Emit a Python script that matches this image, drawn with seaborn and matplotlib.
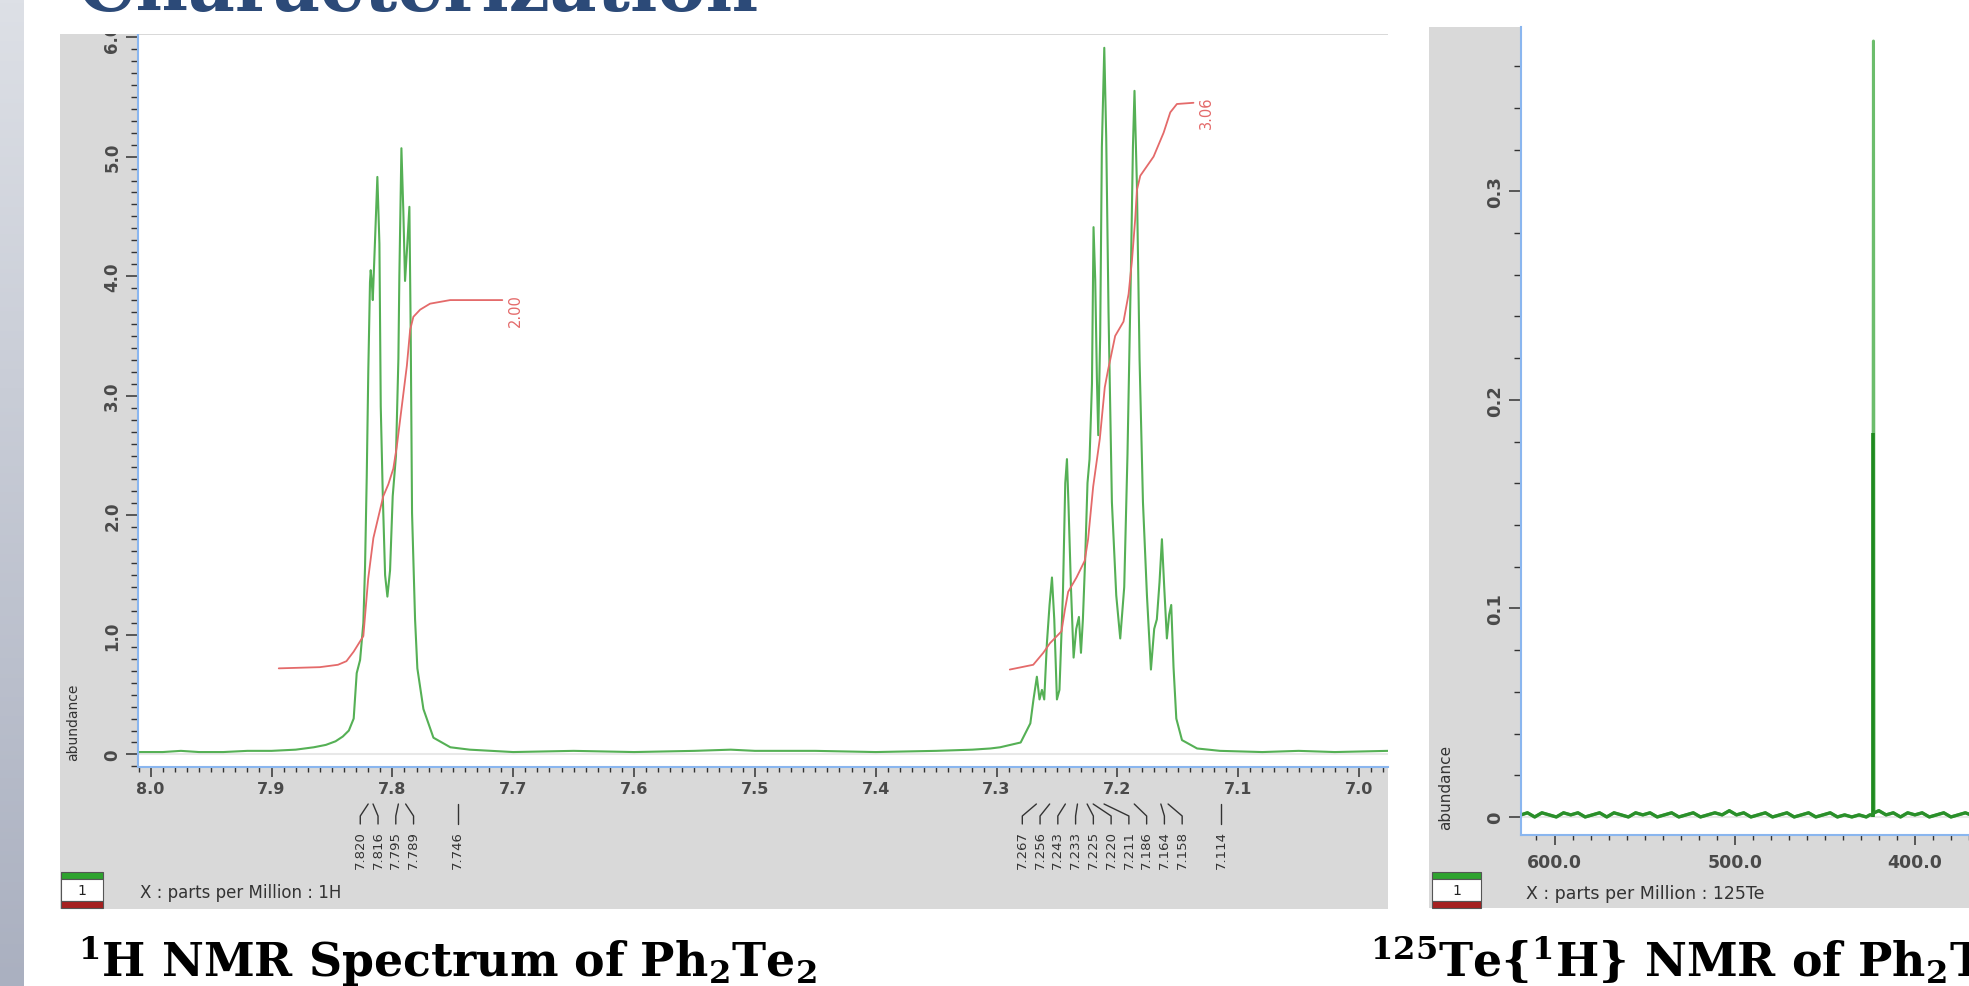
import numpy as np
import pandas as pd
import matplotlib
matplotlib.use("Agg")
import matplotlib.pyplot as plt
import matplotlib.transforms as mtransforms
from matplotlib.patches import Rectangle
from matplotlib.colors import LinearSegmentedColormap
from matplotlib.ticker import MultipleLocator, FuncFormatter
import seaborn as sns

# ---- 1H spectrum trace (ppm, abundance) ----
h1_trace = [
    (8.012, 0.02), (7.99, 0.02), (7.975, 0.03), (7.96, 0.02), (7.94, 0.02),
    (7.92, 0.03), (7.90, 0.03), (7.88, 0.04), (7.865, 0.06), (7.855, 0.08),
    (7.847, 0.11), (7.841, 0.15), (7.836, 0.20), (7.832, 0.30), (7.8295, 0.68),
    (7.8267, 0.79), (7.8240, 1.10), (7.8226, 1.57), (7.8212, 2.32), (7.8199, 3.21),
    (7.8185, 3.95), (7.8179, 4.05), (7.8170, 3.95), (7.8162, 3.80), (7.8143, 4.31),
    (7.8124, 4.83), (7.8107, 4.27), (7.8096, 2.91), (7.8079, 2.16), (7.8060, 1.50),
    (7.8041, 1.32), (7.8019, 1.54), (7.7997, 2.16), (7.7970, 2.50), (7.7950, 3.31),
    (7.7942, 4.00), (7.7925, 5.07), (7.7909, 4.54), (7.7895, 3.96), (7.7876, 4.27),
    (7.7859, 4.58), (7.7848, 3.52), (7.7837, 2.02), (7.7812, 1.13), (7.7793, 0.72),
    (7.7743, 0.38), (7.766, 0.14), (7.752, 0.06), (7.736, 0.04), (7.70, 0.02),
    (7.65, 0.03), (7.60, 0.02), (7.55, 0.03), (7.52, 0.04), (7.50, 0.03),
    (7.45, 0.03), (7.40, 0.02), (7.35, 0.03), (7.32, 0.04), (7.305, 0.05),
    (7.297, 0.06), (7.280, 0.10), (7.272, 0.26), (7.2694, 0.46), (7.2666, 0.65),
    (7.2644, 0.46), (7.2624, 0.54), (7.2605, 0.46), (7.2583, 0.93), (7.2561, 1.25),
    (7.2541, 1.48), (7.2522, 1.13), (7.2500, 0.46), (7.2479, 0.54), (7.2450, 1.36),
    (7.2431, 2.27), (7.2417, 2.47), (7.2404, 2.08), (7.2384, 1.40), (7.2362, 0.81),
    (7.2340, 1.05), (7.2318, 1.15), (7.2301, 0.85), (7.2285, 1.13), (7.2266, 1.64),
    (7.2247, 2.27), (7.2230, 2.47), (7.2210, 3.10), (7.2197, 4.41), (7.2183, 3.97),
    (7.2169, 3.14), (7.2158, 2.67), (7.2142, 3.50), (7.2128, 5.08), (7.2108, 5.91),
    (7.2092, 5.16), (7.2073, 3.70), (7.2045, 2.11), (7.2009, 1.33), (7.1976, 0.97),
    (7.1943, 1.40), (7.1916, 2.51), (7.1887, 4.09), (7.1871, 5.08), (7.1858, 5.55),
    (7.1838, 4.76), (7.1816, 3.30), (7.1788, 2.11), (7.1755, 1.33), (7.1722, 0.71),
    (7.1695, 1.05), (7.1673, 1.13), (7.1651, 1.44), (7.1631, 1.80), (7.1612, 1.40),
    (7.1590, 0.97), (7.1571, 1.17), (7.1554, 1.25), (7.1535, 0.73), (7.1512, 0.30),
    (7.1465, 0.12), (7.134, 0.05), (7.115, 0.03), (7.08, 0.02), (7.05, 0.03),
    (7.02, 0.02), (6.976, 0.03),
]
h1_ppm, h1_abund = map(list, zip(*h1_trace))

# integral curves
int1_trace = [
    (7.894, 0.72), (7.86, 0.73), (7.845, 0.75), (7.838, 0.78), (7.832, 0.86),
    (7.824, 0.99), (7.820, 1.47), (7.8157, 1.81), (7.8075, 2.16), (7.8033, 2.26),
    (7.7992, 2.39), (7.7964, 2.57), (7.7922, 2.91), (7.788, 3.25), (7.7853, 3.55),
    (7.7826, 3.66), (7.777, 3.72), (7.7688, 3.77), (7.7522, 3.80), (7.709, 3.80),
]
int2_trace = [
    (7.289, 0.71), (7.2696, 0.75), (7.2613, 0.85), (7.2558, 0.93), (7.2462, 1.03),
    (7.2434, 1.21), (7.2407, 1.36), (7.2338, 1.48), (7.227, 1.62), (7.2242, 1.80),
    (7.220, 2.24), (7.2145, 2.64), (7.2104, 3.07), (7.2076, 3.22), (7.2059, 3.30),
    (7.2018, 3.50), (7.1949, 3.62), (7.1907, 3.85), (7.1879, 4.13), (7.1852, 4.48),
    (7.1838, 4.72), (7.181, 4.84), (7.1755, 4.92), (7.170, 5.00), (7.1617, 5.20),
    (7.1562, 5.37), (7.1507, 5.44), (7.137, 5.45),
]
int1_ppm, int1_val = map(list, zip(*int1_trace))
int2_ppm, int2_val = map(list, zip(*int2_trace))
int_labels = ["2.00", "3.06"]

# picked peaks
h1_peaks = [7.820, 7.816, 7.795, 7.789, 7.746,
            7.267, 7.256, 7.243, 7.233, 7.225, 7.220, 7.211, 7.186, 7.164, 7.158, 7.114]

# ---- 125Te spectrum ----
te_trace = [
    (618.6, 0.001), (615, 0.002), (611, 0.000), (607, 0.002), (603, 0.001),
    (599, 0.000), (595, 0.002), (591, 0.001), (587, 0.002), (583, 0.000),
    (579, 0.001), (575, 0.002), (571, 0.000), (567, 0.002), (563, 0.001),
    (559, 0.000), (555, 0.002), (551, 0.001), (547, 0.002), (543, 0.000),
    (539, 0.001), (535, 0.002), (531, 0.000), (527, 0.001), (523, 0.002),
    (519, 0.000), (515, 0.001), (511, 0.002), (507, 0.001), (503, 0.003),
    (499, 0.001), (495, 0.002), (491, 0.000), (487, 0.001), (483, 0.002),
    (479, 0.000), (475, 0.001), (471, 0.002), (467, 0.000), (463, 0.001),
    (459, 0.002), (455, 0.000), (451, 0.001), (447, 0.002), (443, 0.000),
    (439, 0.001), (435, 0.000), (431, 0.001), (427, 0.000), (425, 0.001),
    (423.3, 0.001), (423.0, 0.372), (422.7, 0.002), (420, 0.003), (416, 0.001),
    (412, 0.002), (408, 0.000), (404, 0.002), (400, 0.001), (396, 0.002),
    (392, 0.000), (388, 0.001), (384, 0.002), (380, 0.000), (376, 0.001),
    (372, 0.002), (369, 0.001),
]
te_ppm, te_abund = map(list, zip(*te_trace))
te_peak_ppm = 423.0
te_peak_inner = 0.184

W, H, DPI = 1969, 987, 100
GREEN = "#55b055"
RED = "#e46a6a"
AXBLUE = "#8ab6ef"
PANEL = "#d9d9d9"
TXT = "#4a4a4a"

sns.set_theme(style="white")
plt.rcParams["font.family"] = ["DejaVu Sans"]
plt.rcParams["mathtext.fontset"] = "custom"
plt.rcParams["mathtext.rm"] = "DejaVu Serif:bold"
plt.rcParams["mathtext.it"] = "DejaVu Serif:bold"
plt.rcParams["mathtext.bf"] = "DejaVu Serif:bold"
plt.rcParams["mathtext.default"] = "rm"

fig = plt.figure(figsize=(W / DPI, H / DPI), dpi=DPI)
fig.patch.set_facecolor("white")


def frect(x0, y0, x1, y1, **kw):
    # rectangle in pixel coords (y measured from top)
    r = Rectangle((x0 / W, 1 - y1 / H), (x1 - x0) / W, (y1 - y0) / H,
                  transform=fig.transFigure, **kw)
    fig.add_artist(r)
    return r


# slide decoration: left gradient strip
ax_strip = fig.add_axes([0, 0, 23 / W, 1])
ax_strip.imshow(np.linspace(0, 1, 256)[:, None], aspect="auto",
                cmap=LinearSegmentedColormap.from_list("s", ["#dde0e6", "#aab0c0"]))
ax_strip.axis("off")

# gray panels
frect(60, 35, 1388, 910, facecolor=PANEL, edgecolor="none", zorder=-1)
frect(1429, 28, 1969, 909, facecolor=PANEL, edgecolor="none", zorder=-1)

ax1 = fig.add_axes([138 / W, 1 - 768 / H, 1250 / W, 732 / H])
ax2 = fig.add_axes([1521 / W, 1 - 835.7 / H, 448 / W, 807.4 / H])

zero_fmt = FuncFormatter(lambda v, p: "0" if abs(v) < 1e-9 else f"{v:.1f}")

for ax, xls, yls in ((ax1, 11.5, 12), (ax2, 12.5, 13)):
    ax.set_facecolor("white")
    for s in ("top", "right"):
        ax.spines[s].set_visible(False)
    for s in ("left", "bottom"):
        ax.spines[s].set_color(AXBLUE)
        ax.spines[s].set_linewidth(1.5)
    ax.axhline(0, color="#e8e8e8", lw=1.5, zorder=0)
    ax.tick_params(axis="x", which="major", bottom=True, direction="out", length=7,
                   width=1.1, color="#333333", labelcolor=TXT, labelsize=xls, pad=3)
    ax.tick_params(axis="x", which="minor", bottom=True, direction="out", length=3.5,
                   width=1.0, color="#333333")
    ax.tick_params(axis="y", which="major", left=True, direction="out", length=9,
                   width=1.1, color="#333333", labelcolor=TXT, labelsize=yls,
                   labelrotation=90, pad=3)
    ax.tick_params(axis="y", which="minor", left=True, direction="out", length=5,
                   width=1.0, color="#333333")

# ---- 1H panel ----
df1 = pd.DataFrame({"ppm": h1_ppm, "abundance": h1_abund})
sns.lineplot(data=df1, x="ppm", y="abundance", ax=ax1, sort=False, estimator=None,
             color=GREEN, lw=1.5, legend=False)
sns.lineplot(x=int1_ppm, y=int1_val, ax=ax1, sort=False, estimator=None, color=RED, lw=1.3)
sns.lineplot(x=int2_ppm, y=int2_val, ax=ax1, sort=False, estimator=None, color=RED, lw=1.3)
ax1.set_xlim(8.0105, 6.976)
ax1.set_ylim(-0.105, 6.017)
ax1.xaxis.set_major_locator(MultipleLocator(0.1))
ax1.xaxis.set_minor_locator(MultipleLocator(0.01))
ax1.yaxis.set_major_locator(MultipleLocator(1.0))
ax1.yaxis.set_minor_locator(MultipleLocator(0.1))
ax1.xaxis.set_major_formatter(FuncFormatter(lambda v, p: f"{v:.1f}"))
ax1.yaxis.set_major_formatter(zero_fmt)
ax1.set_xlabel("")
ax1.set_ylabel("")

for (xs, ys), lab in zip([(int1_ppm, int1_val), (int2_ppm, int2_val)], int_labels):
    ax1.annotate(lab, (xs[-1], ys[-1]), xytext=(4, 5), textcoords="offset points",
                 rotation=90, ha="left", va="top", color=RED, fontsize=10.5)


# peak labels spread under the axis
def spread(pos, gap):
    groups = [[p] for p in pos]
    merged = True
    while merged:
        merged = False
        out = []
        for g in groups:
            if out:
                prev = out[-1]
                right_prev = (prev[0] + prev[-1]) / 2 + (len(prev) - 1) / 2 * gap
                left_g = (g[0] + g[-1]) / 2 - (len(g) - 1) / 2 * gap
                if left_g - right_prev < gap:
                    out[-1] = prev + g
                    merged = True
                    continue
            out.append(g)
        groups = out
    res = []
    for g in groups:
        c = (g[0] + g[-1]) / 2
        res += [c + (i - (len(g) - 1) / 2) * gap for i in range(len(g))]
    return res


trans = mtransforms.blended_transform_factory(ax1.transData, ax1.transAxes)
lab_pos = [-v for v in spread([-p for p in h1_peaks], 0.0147)]
y_top, y_bot = -(805 - 768) / 732, -(825 - 768) / 732
y_mid = y_top + 0.6 * (y_bot - y_top)
for pk, lx in zip(h1_peaks, lab_pos):
    ax1.plot([pk, lx, lx], [y_top, y_mid, y_bot], transform=trans, clip_on=False,
             color="#333333", lw=1.0)
    ax1.text(lx, -(831 - 768) / 732, f"{pk:.3f}", transform=trans, rotation=90,
             ha="center", va="top", fontsize=9.5, color="#333333", clip_on=False)

# ---- 125Te panel ----
df2 = pd.DataFrame({"ppm": te_ppm, "abundance": te_abund})
sns.lineplot(data=df2, x="ppm", y="abundance", ax=ax2, sort=False, estimator=None,
             color="#6cbd6c", lw=2.2, legend=False)
ax2.vlines(te_peak_ppm, 0, te_peak_inner, color="#1f8a1f", lw=2.6)
base = df2[df2["abundance"] < 0.05]
sns.lineplot(x=base["ppm"], y=base["abundance"], ax=ax2, sort=False, estimator=None,
             color="#2a8f2a", lw=2.4)
ax2.set_xlim(618.6, 618.6 - 448 / 1.802)
ax2.set_ylim(-0.0085, 0.3786)
ax2.xaxis.set_major_locator(MultipleLocator(100))
ax2.xaxis.set_minor_locator(MultipleLocator(10))
ax2.yaxis.set_major_locator(MultipleLocator(0.1))
ax2.yaxis.set_minor_locator(MultipleLocator(0.02))
ax2.xaxis.set_major_formatter(FuncFormatter(lambda v, p: f"{v:.1f}"))
ax2.yaxis.set_major_formatter(zero_fmt)
ax2.tick_params(axis="x", which="major", pad=6)
ax2.set_xlabel("")
ax2.set_ylabel("")

for ax in (ax1, ax2):
    plt.setp(ax.get_xticklabels(), fontweight="bold")
    plt.setp(ax.get_yticklabels(), fontweight="bold", va="center")

# white cover over the top of the left panel (clips the 6.0 label)
frect(60, 0, 1388, 35, facecolor="white", edgecolor="none", zorder=5)

# axis captions inside the panels
fig.text(73 / W, 1 - 722 / H, "abundance", rotation=90, ha="center", va="center",
         fontsize=10, color="#333333")
fig.text(1446 / W, 1 - 787 / H, "abundance", rotation=90, ha="center", va="center",
         fontsize=11, color="#333333")
fig.text(140 / W, 1 - 893 / H, "X : parts per Million : 1H", ha="left", va="center",
         fontsize=12, color="#333333")
fig.text(1526 / W, 1 - 894 / H, "X : parts per Million : 125Te", ha="left", va="center",
         fontsize=12.5, color="#333333")

# small "1" trace boxes
for x0, x1 in [(61, 103), (1432, 1481)]:
    frect(x0, 873, x1, 880, facecolor="#2ea32e", edgecolor="#555555", lw=0.8, zorder=6)
    frect(x0, 880, x1, 902, facecolor="white", edgecolor="#555555", lw=0.8, zorder=6)
    frect(x0, 902, x1, 909, facecolor="#a52020", edgecolor="#555555", lw=0.8, zorder=6)
    fig.text((x0 + x1) / 2 / W, 1 - 891 / H, "1", ha="center", va="center",
             fontsize=10, color="#222222", zorder=7)

# slide title (cut off at the top) and captions
fig.text(78 / W, 1 - 11 / H, "Characterization", fontsize=52, fontweight="bold",
         family="DejaVu Serif", color="#2c4a78", va="baseline", zorder=7)
fig.text(78 / W, 1 - 977 / H, r"$^{1}$H NMR Spectrum of Ph$_{2}$Te$_{2}$",
         fontsize=33, fontweight="bold", family="DejaVu Serif", color="black",
         va="baseline")
fig.text(1370 / W, 1 - 977 / H, r"$^{125}$Te{$^{1}$H} NMR of Ph$_{2}$Te$_{2}$",
         fontsize=33, fontweight="bold", family="DejaVu Serif", color="black",
         va="baseline")

fig.savefig("out.png", dpi=DPI)
